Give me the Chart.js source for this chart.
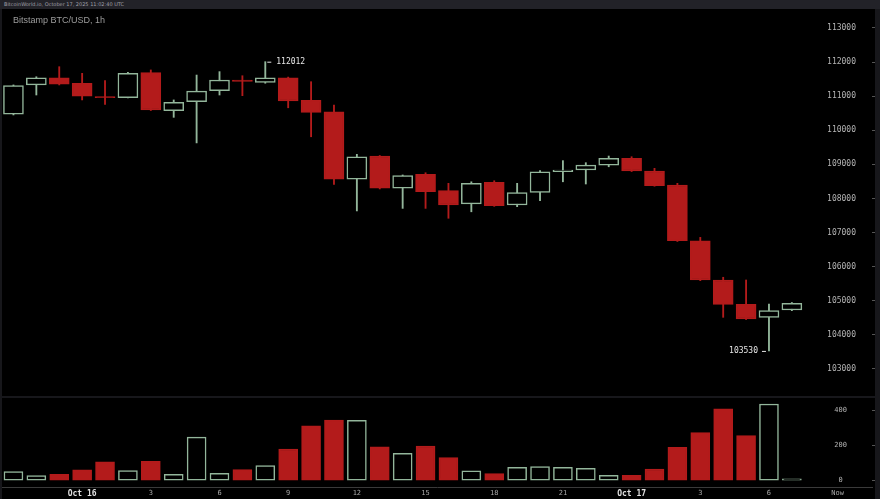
<!DOCTYPE html>
<html>
<head>
<meta charset="utf-8">
<title>Bitstamp BTC/USD, 1h</title>
<script src="https://cdn.jsdelivr.net/npm/chart.js@4.4.1/dist/chart.umd.min.js"></script>
<style>
  html, body { margin: 0; padding: 0; background: #17171b; }
  #frame { position: relative; width: 880px; height: 499px; overflow: hidden; background: #17171b; }
  #topbar { position: absolute; left: 0; top: 0; width: 876px; height: 9px; padding-left: 4px;
            background: #222228; color: #a0a0a8; font: 5px "DejaVu Sans"; line-height: 9px; }
  #pricePanel { position: absolute; left: 2px; top: 9px; width: 873px; height: 387px; background: #000; }
  #volPanel { position: absolute; left: 2px; top: 398px; width: 873px; height: 101px; background: #000; }
  #title { position: absolute; left: 13px; top: 15px; color: #9c9c9c; font: 9px "Liberation Sans"; }
  canvas { display: block; }
</style>
</head>
<body>
<div id="frame">
  <div id="topbar">BitcoinWorld.io, October 17, 2025 11:02:40 UTC</div>
  <div id="pricePanel"><canvas id="priceChart" width="873" height="387"></canvas></div>
  <div id="volPanel"><canvas id="volChart" width="873" height="101"></canvas></div>
  <div id="title">Bitstamp BTC/USD, 1h</div>
</div>
<script>
"use strict";

// hourly candles, Oct 15 21:00 -> Oct 17 07:00
const hourLabels = ["", "", "", "Oct 16", "", "", "3", "", "", "6", "", "", "9", "", "", "12", "", "",
  "15", "", "", "18", "", "", "21", "", "", "Oct 17", "", "", "3", "", "", "6", "", "", "Now", ""];

const priceTicks = [103000, 104000, 105000, 106000, 107000, 108000, 109000, 110000, 111000, 112000, 113000];
const volumeTicks = [0, 200, 400];

const opens  = [110470, 111330, 111540, 111380, 110985, 110955, 111690, 110575, 110840, 111160,
                111475, 111405, 111540, 110880, 110545, 108570, 109245, 108300, 108710, 108230,
                107840, 108475, 107810, 108180, 108790, 108835, 108980, 109180, 108805, 108395,
                106760, 105610, 104895, 104515, 104730];
const highs  = [111330, 111570, 111865, 111670, 111455, 111700, 111770, 110890, 111620, 111720,
                111600, 112012, 111560, 111425, 110740, 109295, 109260, 108690, 108755, 108445,
                108490, 108520, 108445, 108820, 109110, 109050, 109245, 109225, 108885, 108445,
                106860, 105690, 105610, 104905, 104950];
const lows   = [110450, 111035, 111330, 110890, 110760, 110950, 110580, 110380, 109630, 111035,
                111015, 111380, 110660, 109810, 108415, 107635, 108280, 107710, 107710, 107420,
                107610, 107770, 107760, 107935, 108490, 108425, 108930, 108790, 108360, 106740,
                105590, 104515, 104450, 103530, 104710];
const closes = [111310, 111540, 111350, 111000, 110955, 111670, 110595, 110820, 111150, 111475,
                111435, 111540, 110860, 110525, 108570, 109225, 108300, 108670, 108200, 107810,
                108445, 107790, 108170, 108785, 108835, 108980, 109180, 108805, 108375, 106760,
                105610, 104895, 104465, 104710, 104925];
const volumes = [51, 28, 36, 61, 106, 57, 110, 36, 246, 42, 62, 85, 179, 310, 343, 342, 192, 155,
                 196, 130, 55, 40, 76, 79, 76, 70, 30, 30, 66, 189, 272, 406, 255, 434, 10];

const highIdx = 11;
const lowIdx = 33;

const GREEN = "#93b69b";
const RED = "#b31b1b";

Chart.defaults.font.family = "'DejaVu Sans Mono', monospace";

const isUp = closes.map((c, i) => c >= opens[i]);
const candleColor = isUp.map(u => (u ? GREEN : RED));
const bodyFill = isUp.map(u => (u ? "#000000" : RED));

// markeringar för högsta/lägsta
const markLabels = {
  id: "markLabels",
  afterDatasetsDraw(chart) {
    const { ctx, scales: { x, y } } = chart;
    ctx.save();
    ctx.font = "8px 'DejaVu Sans Mono'";
    ctx.fillStyle = "#e6e6e6";
    ctx.strokeStyle = "#e6e6e6";
    ctx.lineWidth = 1;
    ctx.textBaseline = "middle";

    const hx = x.getPixelForValue(highIdx);
    const hy = y.getPixelForValue(highs[highIdx]);
    ctx.beginPath();
    ctx.moveTo(hx + 2, hy + 0.5);
    ctx.lineTo(hx + 6, hy + 0.5);
    ctx.stroke();
    ctx.textAlign = "left";
    ctx.fillText(String(highs[highIdx]), hx + 11, hy);

    const lx = x.getPixelForValue(lowIdx);
    const ly = y.getPixelForValue(lows[lowIdx]);
    ctx.beginPath();
    ctx.moveTo(lx - 7, ly + 0.5);
    ctx.lineTo(lx - 3, ly + 0.5);
    ctx.stroke();
    ctx.textAlign = "right";
    ctx.fillText(String(lows[lowIdx]), lx - 11, ly);
    ctx.restore();
  }
};

// y-axel på högerkanten, etiketter inne i diagrammet
function rightAxis(min, max, ticks, padding, size) {
  return {
    position: "right",
    min: min,
    max: max,
    grid: { drawOnChartArea: false, drawTicks: true, tickLength: 3, color: "#555" },
    border: { display: false },
    ticks: {
      mirror: true,
      padding: padding,
      crossAlign: "center",
      color: "#b4b4b4",
      font: { size: size },
      callback: v => String(v)
    },
    afterBuildTicks(s) {
      s.ticks = ticks.map(v => ({ value: v }));
    },
    afterFit(s) {
      s.width = 3;
      s.paddingTop = 0;
      s.paddingBottom = 0;
    }
  };
}

// Candles
new Chart(document.getElementById("priceChart"), {
  type: "bar",
  data: {
    labels: hourLabels,
    datasets: [
      {
        label: "body",
        data: opens.map((o, i) => [o, closes[i]]),
        backgroundColor: bodyFill,
        borderColor: candleColor,
        borderWidth: 1.5,
        borderSkipped: false,
        barThickness: 20,
        minBarLength: 1,
        grouped: false
      },
      {
        label: "wick",
        data: lows.map((l, i) => [l, highs[i]]),
        backgroundColor: candleColor,
        barThickness: 1.2,
        grouped: false
      }
    ]
  },
  options: {
    responsive: false,
    animation: false,
    layout: { padding: 0 },
    plugins: { legend: { display: false }, tooltip: { enabled: false } },
    scales: {
      x: { display: false, offset: true },
      y: rightAxis(102208, 113557, priceTicks, -16, 8)
    }
  },
  plugins: [markLabels]
});

// Volym
new Chart(document.getElementById("volChart"), {
  type: "bar",
  data: {
    labels: hourLabels,
    datasets: [
      {
        label: "volume",
        data: volumes,
        backgroundColor: bodyFill,
        borderColor: candleColor,
        borderWidth: 1.5,
        borderSkipped: false,
        barThickness: 19
      }
    ]
  },
  options: {
    responsive: false,
    animation: false,
    layout: { padding: 0 },
    plugins: { legend: { display: false }, tooltip: { enabled: false } },
    scales: {
      x: {
        offset: true,
        grid: { display: false, drawTicks: false },
        border: { display: true, color: "#3a3a3a" },
        ticks: {
          autoSkip: false,
          maxRotation: 0,
          padding: 2,
          color: ctx => (ctx.tick && String(ctx.tick.label).startsWith("Oct") ? "#e0e0e0" : "#a8a8a8"),
          font: ctx => (ctx.tick && String(ctx.tick.label).startsWith("Oct")
            ? { size: 8, weight: "bold" }
            : { size: 7 })
        },
        afterFit(s) {
          s.height = 12;
        }
      },
      y: rightAxis(-36, 468, volumeTicks, -25, 7)
    }
  }
});
</script>
</body>
</html>
